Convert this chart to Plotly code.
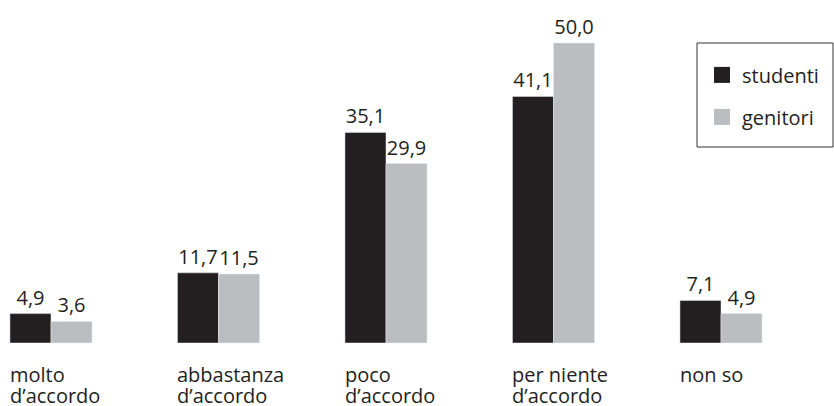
import plotly.graph_objects as go

categories = ["molto\nd’accordo", "abbastanza\nd’accordo", "poco\nd’accordo", "per niente\nd’accordo", "non so"]
studenti = [4.9, 11.7, 35.1, 41.1, 7.1]
genitori = [3.6, 11.5, 29.9, 50.0, 4.9]
series_names = ["studenti", "genitori"]

DARK = "#231F20"
GREY = "#BCBDC0"
FONT = "Open Sans"
FS = 20
W = 0.245

def fmt(v):
    return f"{v:.1f}".replace(".", ",")

x = list(range(len(categories)))
fig = go.Figure()
fig.add_trace(go.Bar(x=x, y=studenti, name=series_names[0], marker_color=DARK,
                     width=W, offset=-W, text=[fmt(v) for v in studenti],
                     textposition="outside", showlegend=False, cliponaxis=False,
                     hoverinfo="skip"))
fig.add_trace(go.Bar(x=x, y=genitori, name=series_names[1], marker_color=GREY,
                     width=W, offset=0, text=[fmt(v) for v in genitori],
                     textposition="outside", showlegend=False, cliponaxis=False,
                     hoverinfo="skip"))
# legend entries (square swatches)
for nm, col, grp in [(series_names[0], DARK, "a"), (series_names[1], GREY, "b")]:
    fig.add_trace(go.Scatter(x=[None], y=[None], mode="markers", name=nm,
                             marker=dict(symbol="square", size=16, color=col),
                             legendgroup=grp, showlegend=True))

# category labels: two tightly spaced lines, left aligned with the group
line_styles = [dict(yshift=-22, height=21.5, valign="bottom"),
               dict(yshift=-43, height=16, valign="middle")]
for i, c in enumerate(categories):
    for j, line in enumerate(c.split("\n")):
        st = line_styles[j]
        fig.add_annotation(x=i - W, xref="x", y=0, yref="paper", yanchor="top",
                           xanchor="left", align="left", text=line, showarrow=False,
                           xshift=-1, yshift=st["yshift"], height=st["height"],
                           valign=st["valign"], borderpad=0,
                           font=dict(family=FONT, size=FS, color=DARK))

# legend frame
fig.add_shape(type="rect", xref="paper", yref="paper",
              x0=697 / 834, x1=833 / 834, y0=(343 - 147) / 330, y1=(343 - 43) / 330,
              line=dict(color="#333", width=1), fillcolor="rgba(0,0,0,0)")

fig.update_layout(
    width=834, height=406,
    margin=dict(l=0, r=0, t=13, b=63),
    paper_bgcolor="white", plot_bgcolor="white",
    font=dict(family=FONT, size=FS, color=DARK),
    showlegend=True,
    hovermode=False,
    legend=dict(x=702 / 834, y=0.903, xanchor="left", yanchor="top",
                borderwidth=0, bgcolor="rgba(0,0,0,0)",
                traceorder="grouped", tracegroupgap=13,
                itemsizing="trace",
                font=dict(family=FONT, size=FS, color=DARK),
                title=dict(text=" ", font=dict(size=8)),
                itemwidth=30),
    xaxis=dict(range=[-51 / 167.5, -51 / 167.5 + 834 / 167.5], showticklabels=False,
               showgrid=False, zeroline=False, showline=False, ticks=""),
    yaxis=dict(range=[0, 55], showticklabels=False, showgrid=False,
               zeroline=False, showline=False, ticks=""),
)
fig.update_traces(textfont=dict(family=FONT, size=FS, color=DARK), selector=dict(type="bar"))

fig.write_html("out.html", config={"displayModeBar": False},
               post_script="document.body.style.margin='0';document.body.style.overflow='hidden';")
